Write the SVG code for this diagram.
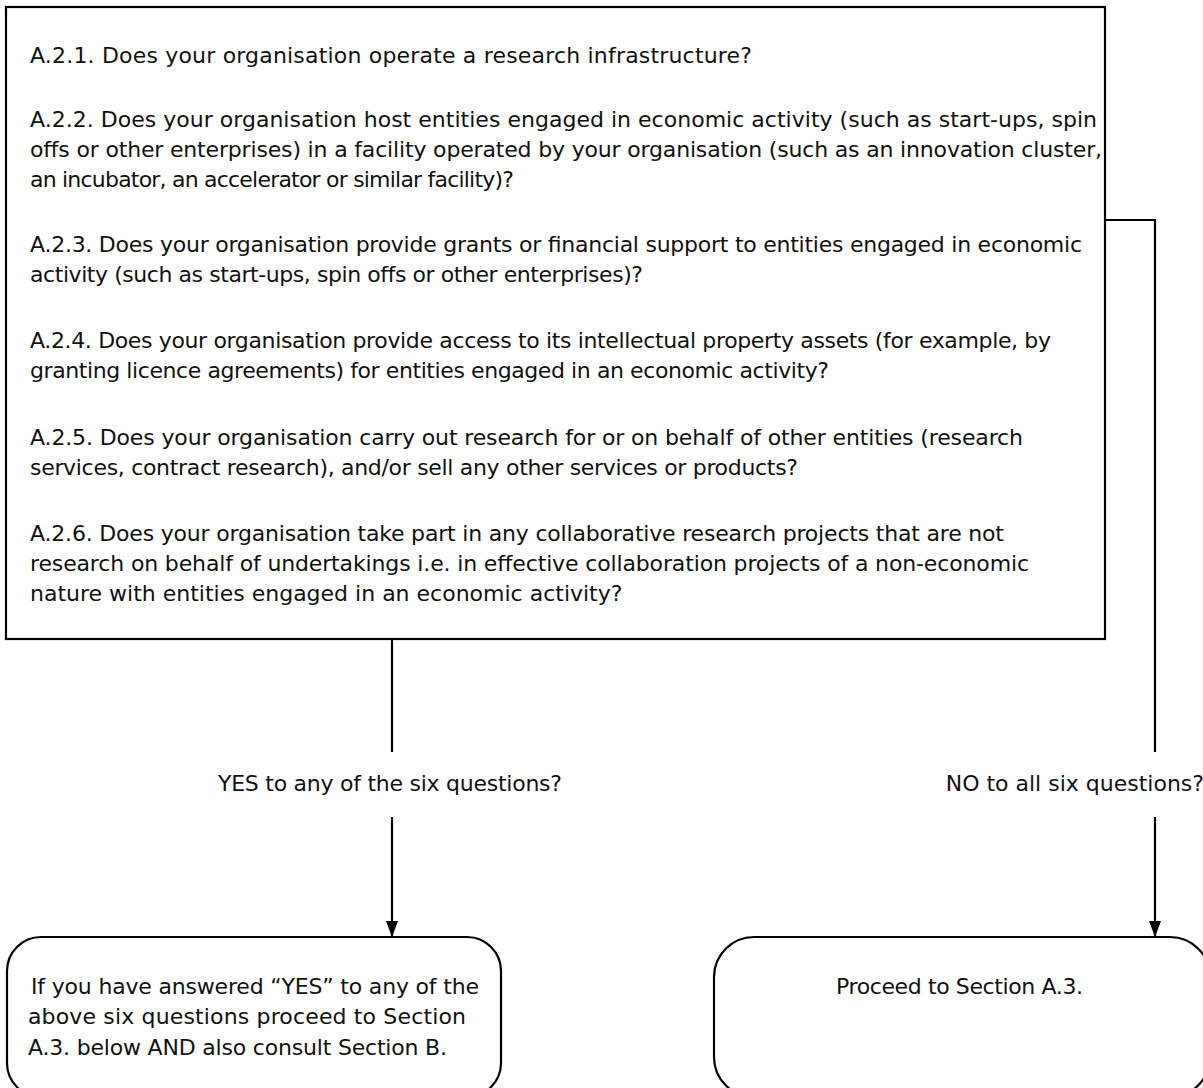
<svg xmlns="http://www.w3.org/2000/svg" width="1203" height="1088" viewBox="0 0 1203 1088">
<defs>
<style>
.t{font-family:"DejaVu Sans","Liberation Sans",sans-serif;font-size:22px;fill:#111;}
.box{fill:#fff;stroke:#000;stroke-width:2.2;}
.ln{fill:none;stroke:#000;stroke-width:2.2;}
</style>
<marker id="ah" markerWidth="16" markerHeight="12" refX="16" refY="6" orient="auto" markerUnits="userSpaceOnUse" viewBox="0 0 16 12">
<path d="M0,0 L16,6 L0,12 Z" fill="#000"/>
</marker>
</defs>
<rect width="1203" height="1088" fill="#fff"/>
<g id="questions">
<rect class="box" x="6" y="7" width="1099" height="632"/>
<text class="t" x="30" y="63" textLength="722" lengthAdjust="spacing">A.2.1. Does your organisation operate a research infrastructure?</text>
<text class="t" x="30" y="127" textLength="1067" lengthAdjust="spacing">A.2.2. Does your organisation host entities engaged in economic activity (such as start-ups, spin</text>
<text class="t" x="30" y="157" textLength="1072" lengthAdjust="spacing">offs or other enterprises) in a facility operated by your organisation (such as an innovation cluster,</text>
<text class="t" x="30" y="187" textLength="484" lengthAdjust="spacing">an incubator, an accelerator or similar facility)?</text>
<text class="t" x="30" y="252" textLength="1052" lengthAdjust="spacing">A.2.3. Does your organisation provide grants or financial support to entities engaged in economic</text>
<text class="t" x="30" y="282" textLength="613" lengthAdjust="spacing">activity (such as start-ups, spin offs or other enterprises)?</text>
<text class="t" x="30" y="348" textLength="1021" lengthAdjust="spacing">A.2.4. Does your organisation provide access to its intellectual property assets (for example, by</text>
<text class="t" x="30" y="378" textLength="799" lengthAdjust="spacing">granting licence agreements) for entities engaged in an economic activity?</text>
<text class="t" x="30" y="445" textLength="993" lengthAdjust="spacing">A.2.5. Does your organisation carry out research for or on behalf of other entities (research</text>
<text class="t" x="30" y="475" textLength="768" lengthAdjust="spacing">services, contract research), and/or sell any other services or products?</text>
<text class="t" x="30" y="541" textLength="974" lengthAdjust="spacing">A.2.6. Does your organisation take part in any collaborative research projects that are not</text>
<text class="t" x="30" y="571" textLength="999" lengthAdjust="spacing">research on behalf of undertakings i.e. in effective collaboration projects of a non-economic</text>
<text class="t" x="30" y="601">nature with entities engaged in an economic activity?</text>
</g>
<g id="connectors">
<path class="ln" d="M392,639 V752"/>
<path class="ln" d="M392,817 V937" marker-end="url(#ah)"/>
<path class="ln" d="M1105,220 H1155 V752"/>
<path class="ln" d="M1155,817 V937" marker-end="url(#ah)"/>
<text class="t" x="218" y="791" textLength="344" lengthAdjust="spacing">YES to any of the six questions?</text>
<text class="t" x="1204" y="791" text-anchor="end">NO to all six questions?</text>
</g>
<g id="yes-result">
<rect class="box" x="7" y="937" width="494" height="160" rx="34" ry="34"/>
<text class="t" x="31" y="994" textLength="448" lengthAdjust="spacing">If you have answered “YES” to any of the</text>
<text class="t" x="28" y="1024" textLength="438" lengthAdjust="spacing">above six questions proceed to Section</text>
<text class="t" x="28" y="1055" textLength="419" lengthAdjust="spacing">A.3. below AND also consult Section B.</text>
</g>
<g id="no-result">
<rect class="box" x="714" y="937" width="496" height="160" rx="40" ry="40"/>
<text class="t" x="836" y="994" textLength="247" lengthAdjust="spacing">Proceed to Section A.3.</text>
</g>
</svg>
